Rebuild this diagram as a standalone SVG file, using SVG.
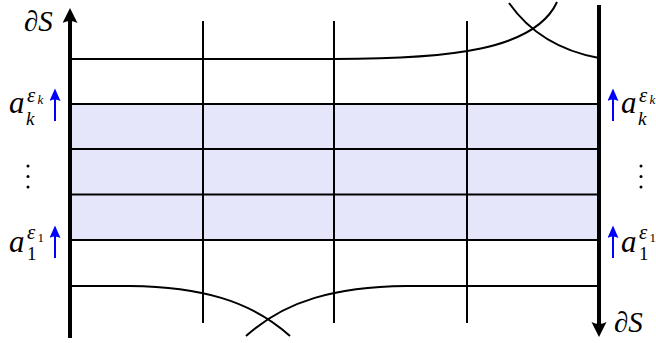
<svg xmlns="http://www.w3.org/2000/svg" width="656" height="343" viewBox="0 0 656 343">
<defs>
<style>
.thick{stroke:#000;stroke-width:4;fill:none}
.thin{stroke:#000;stroke-width:2;fill:none}
.blue{stroke:#0000ff;stroke-width:2;fill:none}
.t{font-family:"Liberation Serif","DejaVu Serif",serif;font-style:italic;fill:#000}
.r{font-family:"Liberation Serif","DejaVu Serif",serif;fill:#000}
</style>
<marker id="ah" markerUnits="userSpaceOnUse" markerWidth="16" markerHeight="16" viewBox="0 0 16 16" refX="5" refY="7.5" orient="auto">
<path d="M0,0 L15,7.5 L0,15 Q4,7.5 0,0 Z" fill="#000"/>
</marker>
<marker id="bh" markerUnits="userSpaceOnUse" markerWidth="13" markerHeight="12" viewBox="0 0 13 12" refX="3" refY="5.5" orient="auto">
<path d="M0,0 L12.5,5.5 L0,11 Q3,5.5 0,0 Z" fill="#0000ff"/>
</marker>
</defs>
<rect x="0" y="0" width="656" height="343" fill="#fff"/>
<g id="band">
<rect x="70" y="104" width="529" height="136" fill="#e6e6fa"/>
</g>
<g id="connectors">
<line class="thin" x1="203" y1="21" x2="203" y2="323"/>
<line class="thin" x1="334" y1="21" x2="334" y2="323"/>
<line class="thin" x1="467" y1="21" x2="467" y2="323"/>
<line class="thin" x1="70" y1="104" x2="599" y2="104"/>
<line class="thin" x1="70" y1="149" x2="599" y2="149"/>
<line class="thin" x1="70" y1="194.5" x2="599" y2="194.5"/>
<line class="thin" x1="70" y1="240" x2="599" y2="240"/>
<path class="thin" d="M70,59 L334,59 C450,59 535,50 557,2"/>
<path class="thin" d="M509,3 C528,30 555,50 599,58"/>
<path class="thin" d="M70,286 L130,286 C200,287 250,300 290,336"/>
<path class="thin" d="M246,336 C286,300 336,287 406,286 L599,286"/>
<line class="thick" x1="70" y1="338" x2="70" y2="18" marker-end="url(#ah)"/>
<line class="thick" x1="599" y1="5" x2="599" y2="327" marker-end="url(#ah)"/>
<line class="blue" x1="55" y1="121" x2="55" y2="98" marker-end="url(#bh)"/>
<line class="blue" x1="55" y1="258" x2="55" y2="235" marker-end="url(#bh)"/>
<line class="blue" x1="613" y1="121" x2="613" y2="98" marker-end="url(#bh)"/>
<line class="blue" x1="613" y1="258" x2="613" y2="235" marker-end="url(#bh)"/>
</g>
<g id="label-dS-top"><text class="t" x="24" y="31" font-size="29">∂S</text></g>
<g id="label-dS-bottom"><text class="t" x="614" y="332" font-size="29">∂S</text></g>
<g id="label-ak-left">
<text class="t" x="9" y="113" font-size="31">a</text>
<text class="t" x="26" y="125" font-size="19">k</text>
<text class="t" x="27" y="102" font-size="21">ε</text>
<text class="t" x="37.5" y="104" font-size="13">k</text>
</g>
<g id="label-a1-left">
<text class="t" x="9" y="252" font-size="31">a</text>
<text class="r" x="27" y="260" font-size="19">1</text>
<text class="t" x="27" y="239" font-size="21">ε</text>
<text class="r" x="37.5" y="242" font-size="13">1</text>
</g>
<g id="label-ak-right">
<text class="t" x="621" y="113" font-size="31">a</text>
<text class="t" x="638" y="125" font-size="19">k</text>
<text class="t" x="639" y="102" font-size="21">ε</text>
<text class="t" x="649.5" y="104" font-size="13">k</text>
</g>
<g id="label-a1-right">
<text class="t" x="621" y="252" font-size="31">a</text>
<text class="r" x="639" y="260" font-size="19">1</text>
<text class="t" x="639" y="239" font-size="21">ε</text>
<text class="r" x="649.5" y="242" font-size="13">1</text>
</g>
<g id="dots-left">
<circle cx="28" cy="166" r="1.5" fill="#000"/>
<circle cx="28" cy="176.5" r="1.5" fill="#000"/>
<circle cx="28" cy="187" r="1.5" fill="#000"/>
</g>
<g id="dots-right">
<circle cx="641" cy="166" r="1.5" fill="#000"/>
<circle cx="641" cy="176.5" r="1.5" fill="#000"/>
<circle cx="641" cy="187" r="1.5" fill="#000"/>
</g>
</svg>
